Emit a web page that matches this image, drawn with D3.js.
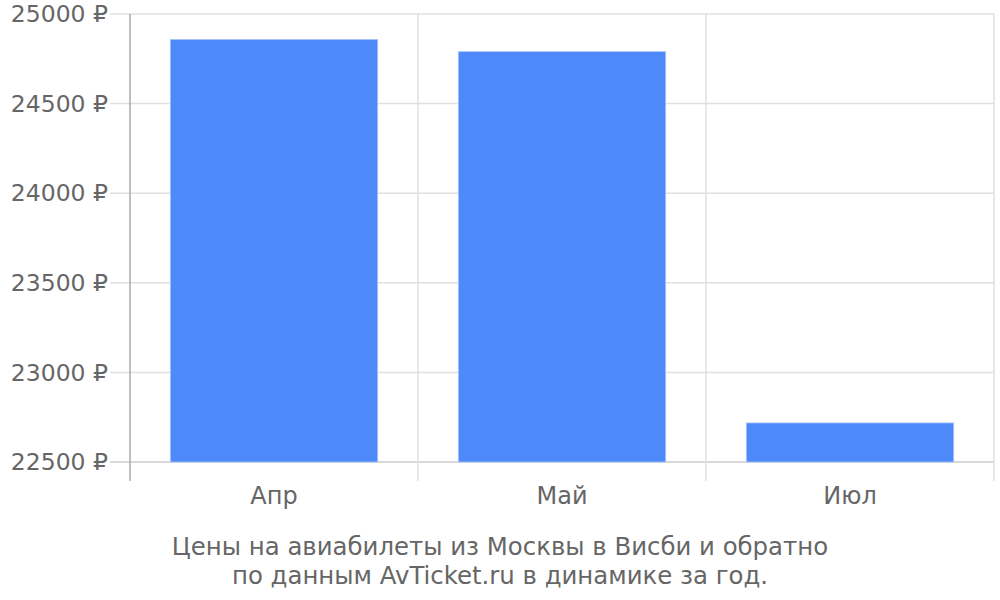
<!DOCTYPE html>
<html>
<head>
<meta charset="utf-8">
<script src="https://cdn.jsdelivr.net/npm/d3@7"></script>
<style>
  body { margin: 0; background: #fff; }
  text { font-family: "DejaVu Sans", sans-serif; fill: #666; }
</style>
</head>
<body>
<svg id="chart" width="1000" height="600"></svg>
<script>
// data
var months = ["Апр", "Май", "Июл"];
var prices = [24858, 24790, 22718];
var yTicks = [22500, 23000, 23500, 24000, 24500, 25000];
var caption = ["Цены на авиабилеты из Москвы в Висби и обратно",
               "по данным AvTicket.ru в динамике за год."];

var margin = {top: 14, left: 130, right: 6, bottom: 138};
var width = 1000 - margin.left - margin.right;
var height = 600 - margin.top - margin.bottom;

var svg = d3.select("#chart");
var g = svg.append("g")
    .attr("transform", "translate(" + margin.left + "," + margin.top + ")");

var x = d3.scaleBand()
    .domain(months)
    .range([0, width])
    .paddingInner(0.28)
    .paddingOuter(0.14);

var y = d3.scaleLinear()
    .domain([22500, 25000])
    .range([height, 0]);

// horizontal grid + y ticks
var yAxis = g.append("g").attr("class", "y axis");
yAxis.selectAll("line.grid")
    .data(yTicks)
    .enter()
    .append("line")
    .attr("x1", -20)
    .attr("x2", width)
    .attr("y1", function (d) { return y(d); })
    .attr("y2", function (d) { return y(d); })
    .attr("stroke", function (d) { return d == 22500 ? "#ccc" : "#e0e0e0"; })
    .attr("stroke-width", 1.5);

yAxis.selectAll("text")
    .data(yTicks)
    .enter()
    .append("text")
    .attr("x", -22)
    .attr("y", function (d) { return y(d); })
    .attr("dy", "0.35em")
    .attr("text-anchor", "end")
    .style("font-size", "23.5px")
    .text(function (d) { return d + " ₽"; });

// vertical grid at band edges
var edges = [0].concat(months.map(function (m) { return x(m) - x.step() * x.paddingInner() / 2 + x.step(); }));
g.selectAll("line.vgrid")
    .data(edges)
    .enter()
    .append("line")
    .attr("x1", function (d) { return d; })
    .attr("x2", function (d) { return d; })
    .attr("y1", 0)
    .attr("y2", height + 19)
    .attr("stroke", function (d, i) { return i == 0 ? "#aaa" : "#e0e0e0"; })
    .attr("stroke-width", 1.5);

// bars
g.selectAll("rect.bar")
    .data(prices)
    .enter()
    .append("rect")
    .attr("class", "bar")
    .attr("x", function (d, i) { return x(months[i]); })
    .attr("width", x.bandwidth())
    .attr("y", function (d) { return y(d); })
    .attr("height", function (d) { return height - y(d); })
    .attr("fill", "#4d89f9")
    .attr("stroke", "#a8c6fb")
    .attr("stroke-width", 0.8);

// month labels
g.selectAll("text.month")
    .data(months)
    .enter()
    .append("text")
    .attr("x", function (d) { return x(d) + x.bandwidth() / 2; })
    .attr("y", height + 42)
    .attr("text-anchor", "middle")
    .style("font-size", "24px")
    .text(function (d) { return d; });

// caption
svg.selectAll("text.caption")
    .data(caption)
    .enter()
    .append("text")
    .attr("x", 500)
    .attr("y", function (d, i) { return 555 + i * 29; })
    .attr("text-anchor", "middle")
    .style("font-size", "24.4px")
    .text(function (d) { return d; });
</script>
</body>
</html>
